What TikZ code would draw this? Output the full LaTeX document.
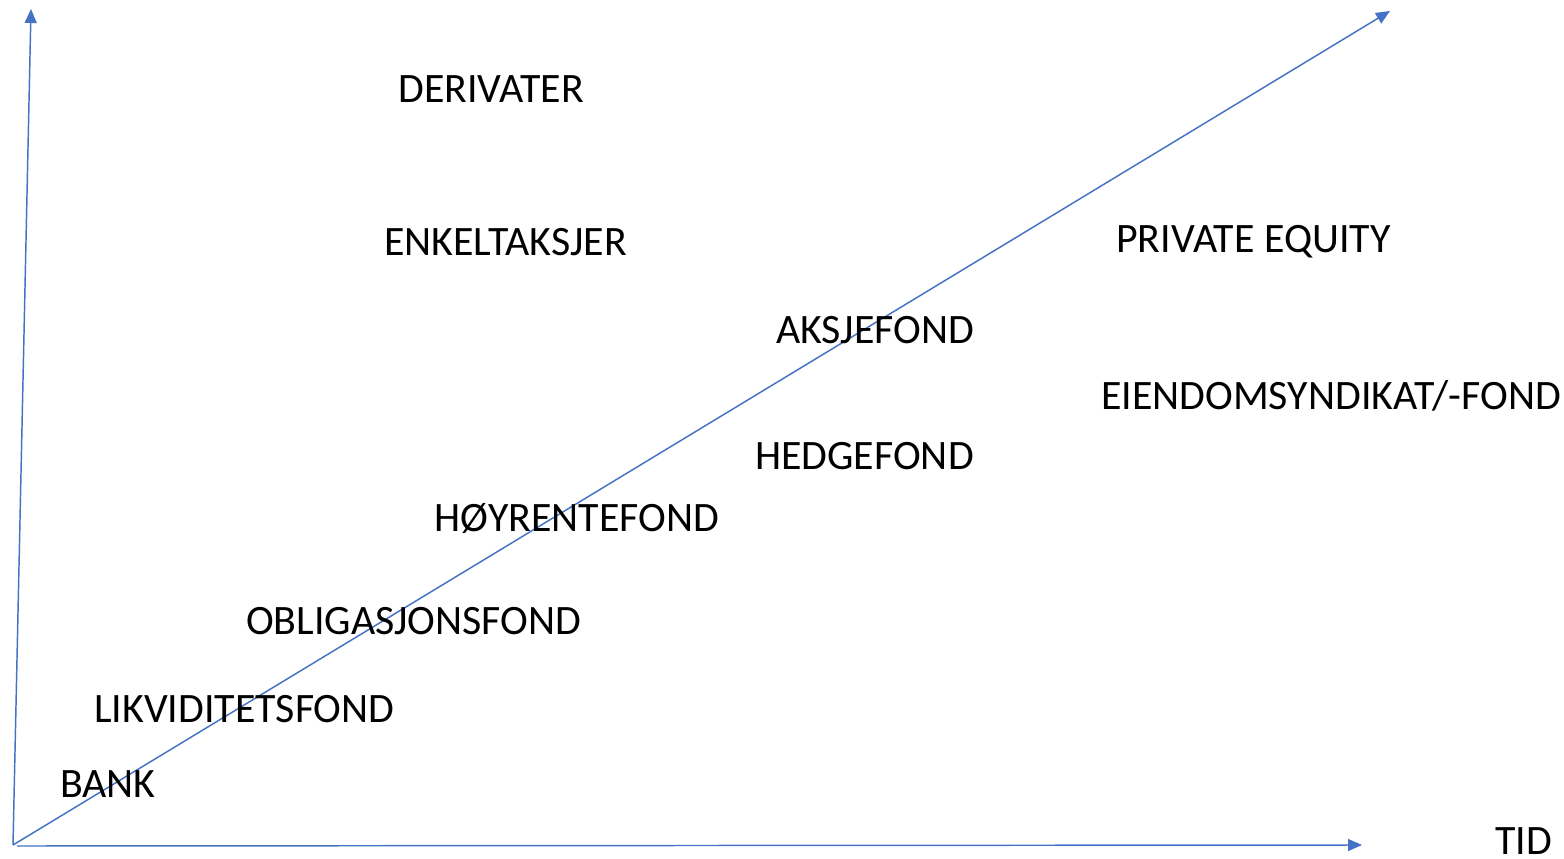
\documentclass[tikz,border=0pt]{standalone}
\usepackage{fontspec}
\setmainfont{Carlito}
\usetikzlibrary{arrows.meta}
\definecolor{axisblue}{HTML}{4472C4}
\begin{document}
\begin{tikzpicture}[x=0.75pt,y=-0.75pt,
  axis/.style={draw=axisblue,line width=1.1pt,-{Triangle[length=10.5pt,width=9pt]}},
  lbl/.style={anchor=base west,inner sep=0pt,font=\fontsize{31.4pt}{37pt}\selectfont,text=black}]
\useasboundingbox (0,0) rectangle (1564,859);
\coordinate (origin) at (13,845);
\coordinate (xstart) at (17,846);
\coordinate (ytip) at (31,9);
\coordinate (xtip) at (1362,845);
\coordinate (dtip) at (1390,11);
\draw[axis] (origin) -- (ytip);
\draw[axis] (xstart) -- (xtip);
\draw[axis] (origin) -- (dtip);
\node[lbl] (derivater) at (398,103) {DERIVATER};
\node[lbl] (enkelt) at (384,256) {ENKELTAKSJER};
\node[lbl] (pe) at (1116,253) {PRIVATE EQUITY};
\node[lbl] (aksje) at (776,344) {AKSJEFOND};
\node[lbl] (eiendom) at (1101,409) {EIENDOMSYNDIKAT/-FOND};
\node[lbl] (hedge) at (755,469) {HEDGEFOND};
\node[lbl] (hoy) at (434,531) {HØYRENTEFOND};
\node[lbl] (obl) at (246,634) {OBLIGASJONSFOND};
\node[lbl] (likv) at (94,722) {LIKVIDITETSFOND};
\node[lbl] (bank) at (60,797) {BANK};
\node[lbl] (tid) at (1495,854) {TID};
\end{tikzpicture}
\end{document}
